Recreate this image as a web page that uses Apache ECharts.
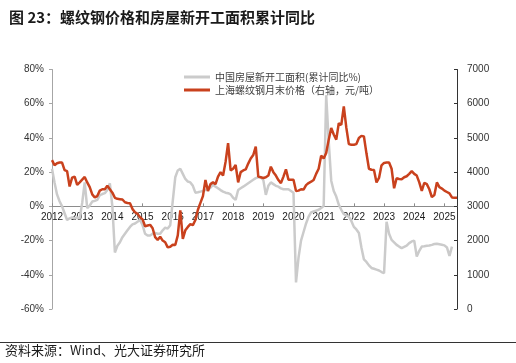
<!DOCTYPE html>
<html>
<head>
<meta charset="utf-8">
<script src="https://cdn.jsdelivr.net/npm/echarts@6/dist/echarts.min.js"></script>
<style>
html,body{margin:0;padding:0;background:#fff;}
#chart{width:516px;height:363px;}
</style>
</head>
<body>
<div id="chart"></div>
<script>
// Monthly categories Jan 2012 .. Jun 2025
const startYear = 2012;
const monthCount = 162;
const categories = [];
for (let i = 0; i < monthCount; i++) {
  const y = startYear + Math.floor(i / 12);
  const m = (i % 12) + 1;
  categories.push(y + '-' + (m < 10 ? '0' + m : m));
}

// 中国房屋新开工面积(累计同比%)
const housingStarts = [
  22, 14, 7, 3, 0, -4, -8, -7, -6.5, -7, -6.5, -7,
  2, 14, -1, 0.5, 2.8, 3.2, 3.8, 6.5, 7.2, 7.7, 9.6, 13.5,
  0, -27, -23, -21, -18, -16, -14, -12, -10.5, -10, -9, -8,
  -11, -16, -17, -17, -16, -15.5, -16, -16, -14, -12.5, -13, -11,
  3, 17, 21, 22, 19, 16, 14.5, 14, 12, 8, 8.2, 8.6,
  9, 9.6, 9.6, 11, 12.6, 11.5, 10.6, 9.5, 8.6, 8, 7.7, 7,
  5, 3.8, 9.6, 10.6, 11.5, 12.5, 13.5, 14.5, 15.5, 16.5, 17, 17,
  15.5, 6.7, 12, 14, 13, 12, 11.5, 10.5, 10, 10, 10, 9,
  8, -44.5, -30, -20, -15, -10, -6, -3.5, -3, -2.5, -2, -1,
  0.3, 65, 38, 15, 9, 5.7, 1, -2, -4.5, -5.5, -6, -8.5,
  -12, -13.5, -15.6, -24, -31, -32.5, -34.5, -36, -36.5, -37, -37.5, -38.4,
  -39, -9, -16, -19.6, -21, -22.5, -23.5, -24.4, -23.7, -23, -21.5, -20.5,
  -20, -29.3, -26, -23.5, -23.3, -23, -22.9, -22.5, -22, -21.9, -22.2, -22.5,
  -22.8, -24, -29, -23.5, null, null
];

// 上海螺纹钢月末价格（右轴，元/吨）
const rebarPrice = [
  4350, 4200, 4260, 4280, 4280, 4060, 4030, 3580, 3840, 3870, 3630, 3700,
  3780, 3860, 3700, 3560, 3350, 3260, 3300, 3460, 3500, 3500, 3600, 3500,
  3400, 3250, 3220, 3210, 3200, 3120, 3100, 3090, 2920, 2830, 2780, 2680,
  2620, 2420, 2440, 2460, 2360, 2100, 2020, 2110, 2000, 1950, 1800, 1820,
  1880, 1870, 2150, 2880, 2050, 2300, 2400, 2480, 2450, 2600, 2900, 3100,
  3300, 3770, 3450, 3650, 3700, 3650, 3870, 4000, 3900, 4300, 4850, 4050,
  4100, 4210, 3700, 4000, 4050, 4080, 4250, 4400, 4500, 4750, 3870, 3850,
  3830, 3850, 3900, 4160, 4000, 3900, 3770, 3680, 3870, 4080, 3780, 3780,
  3780, 3450, 3460, 3500, 3490, 3620, 3680, 3720, 3770, 3950, 4100, 4480,
  4400, 4560, 4950, 5290, 5100, 4950, 5430, 5380, 5920, 5300, 4820, 4800,
  4800, 4820, 5000, 5060, 5040, 4550, 4100, 4070, 4060, 3700, 3830, 4200,
  4270, 4280, 4280, 4100, 3530, 3820, 3800, 3790, 3850, 3880, 3950, 4030,
  3950, 3900, 3700, 3450, 3690, 3650, 3500, 3270, 3330, 3700, 3560, 3520,
  3460, 3420, 3380, 3260, 3250, 3250
];

const leftTicks = { min: -60, max: 80, interval: 20 };
const rightTicks = { min: 0, max: 7000, interval: 1000 };
const seriesNames = ['中国房屋新开工面积(累计同比%)', '上海螺纹钢月末价格（右轴，元/吨）'];

const gridTop = 69.5, gridBottom = 54, chartH = 363;
const plotH = chartH - gridTop - gridBottom;
// distance from plot bottom to the left axis zero line
const zeroOffset = plotH * (0 - leftTicks.min) / (leftTicks.max - leftTicks.min);

const chart = echarts.init(document.getElementById('chart'), null, { renderer: 'canvas' });
const isJan = (idx) => idx % 12 === 0;
const labelFont = 'Liberation Sans';

chart.setOption({
  animation: false,
  backgroundColor: '#ffffff',
  title: {
    text: '图 23：螺纹钢价格和房屋新开工面积累计同比',
    left: 4, top: 5,
    textStyle: { fontSize: 15, fontWeight: 'bold', color: '#1a1a1a', fontFamily: 'Noto Sans CJK SC' }
  },
  graphic: [
    { type: 'line', shape: { x1: 0, y1: 342.5, x2: 516, y2: 342.5 }, style: { stroke: '#333', lineWidth: 1 } },
    { type: 'text', left: 5, top: 344, style: { text: '资料来源：Wind、光大证券研究所', fontSize: 13, fill: '#1a1a1a', fontFamily: 'Noto Sans CJK SC' } }
  ],
  legend: {
    orient: 'vertical', left: 179, top: 67,
    itemWidth: 26, itemHeight: 3, itemGap: 3, icon: 'rect',
    textStyle: { fontSize: 10, color: '#404040', fontFamily: 'Noto Sans CJK SC' },
    data: seriesNames
  },
  grid: { left: 52, right: 59, top: gridTop, bottom: gridBottom, containLabel: false },
  xAxis: {
    type: 'category', data: categories, boundaryGap: false,
    position: 'bottom', offset: -zeroOffset,
    axisLine: { onZero: false, lineStyle: { color: '#8c8c8c', width: 1 } },
    axisTick: { inside: true, length: 3, interval: isJan, lineStyle: { color: '#8c8c8c' } },
    axisLabel: { interval: isJan, formatter: (v) => v.slice(0, 4), fontSize: 10, color: '#1a1a1a', fontFamily: labelFont, margin: 6 },
    splitLine: { show: false }
  },
  yAxis: [
    {
      type: 'value', min: leftTicks.min, max: leftTicks.max, interval: leftTicks.interval,
      axisLine: { show: true, onZero: false, lineStyle: { color: '#a6a6a6' } },
      axisTick: { show: true, length: 3, lineStyle: { color: '#a6a6a6' } },
      axisLabel: { formatter: '{value}%', fontSize: 10, color: '#333', fontFamily: labelFont, margin: 8 },
      splitLine: { show: false }
    },
    {
      type: 'value', min: rightTicks.min, max: rightTicks.max, interval: rightTicks.interval,
      position: 'right',
      axisLine: { show: true, onZero: false, lineStyle: { color: '#333' } },
      axisTick: { show: true, inside: true, length: 3, lineStyle: { color: '#333' } },
      axisLabel: { formatter: (v) => String(v), fontSize: 10, color: '#333', fontFamily: labelFont, margin: 10 },
      splitLine: { show: false }
    }
  ],
  series: [
    {
      name: seriesNames[0], type: 'line', yAxisIndex: 0, data: housingStarts,
      showSymbol: false, symbol: 'none', connectNulls: false,
      lineStyle: { color: '#cbcbcb', width: 2.5 }, itemStyle: { color: '#cbcbcb' }
    },
    {
      name: seriesNames[1], type: 'line', yAxisIndex: 1, data: rebarPrice,
      showSymbol: false, symbol: 'none',
      lineStyle: { color: '#c9411d', width: 2.5 }, itemStyle: { color: '#c9411d' }
    }
  ]
});
</script>
</body>
</html>
